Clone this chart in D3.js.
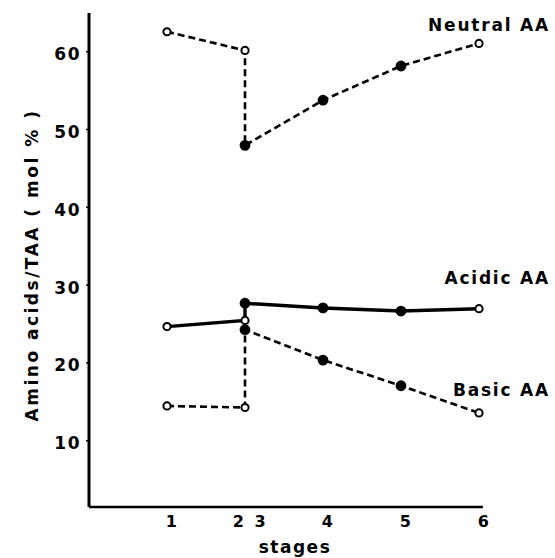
<!DOCTYPE html>
<html>
<head>
<meta charset="utf-8">
<script src="https://cdn.jsdelivr.net/npm/d3@7"></script>
<style>
  body { margin: 0; background: #fff; }
  text { font-family: "DejaVu Sans", "Liberation Sans", sans-serif; font-weight: bold; fill: #000; }
</style>
</head>
<body>
<svg id="chart" width="555" height="558"></svg>
<script>
// stage positions of each measured point (stage 2 ends where stage 3 starts)
var stagePos = [1, 2, 2, 3, 4, 5];
var openPoint = [true, true, false, false, false, true];
var stageTicks = [1, 2, 3, 4, 5];
var stageLabels = ["1", "2 3", "4", "5", "6"];
var yTicks = [10, 20, 30, 40, 50, 60];

var neutralAA = [62.5, 60.1, 47.9, 53.7, 58.1, 61.0];
var acidicAA = [24.6, 25.4, 27.6, 27.0, 26.6, 26.9];
var basicAA = [14.4, 14.2, 24.2, 20.3, 17.0, 13.5];

var seriesNames = ["Neutral AA", "Acidic AA", "Basic AA"];
var seriesLabelAt = [62.6, 30.1, 15.7];

var svg = d3.select("#chart");

var x = d3.scaleLinear().domain([0, 5]).range([89, 479]);
var y = d3.scaleLinear().domain([0, 60]).range([518, 51.2]);

var series = [
  {name: seriesNames[0], values: neutralAA, dashed: true, labelAt: seriesLabelAt[0]},
  {name: seriesNames[1], values: acidicAA, dashed: false, labelAt: seriesLabelAt[1]},
  {name: seriesNames[2], values: basicAA, dashed: true, labelAt: seriesLabelAt[2]}
];

// axes
var yAxis = d3.axisLeft(y).tickValues(yTicks).tickSize(3).tickPadding(5);
var yg = svg.append("g").attr("transform", "translate(" + x(0) + ",0)").call(yAxis);
yg.select(".domain").remove();
yg.selectAll("line").attr("stroke", "#000").attr("stroke-width", 1.5);
yg.selectAll("text").style("font-size", "17px").style("letter-spacing", "1.5px")
  .attr("dy", "0.5em").attr("font-family", null);

var xAxis = d3.axisBottom(x).tickValues(stageTicks).tickSize(0).tickPadding(9)
  .tickFormat(function(d, i) { return stageLabels[i]; });
var xg = svg.append("g").attr("transform", "translate(0," + y(1.4) + ")").call(xAxis);
xg.select(".domain").remove();
xg.selectAll("text").style("font-size", "16px").style("letter-spacing", "2.5px")
  .attr("dx", 5).attr("font-family", null).style("white-space", "pre");

// axis lines
svg.append("line")
  .attr("x1", x(0)).attr("x2", x(0))
  .attr("y1", y(64.9)).attr("y2", y(1.4))
  .attr("stroke", "#000").attr("stroke-width", 3);
svg.append("line")
  .attr("x1", x(0)).attr("x2", x(5.05))
  .attr("y1", y(1.4)).attr("y2", y(1.4))
  .attr("stroke", "#000").attr("stroke-width", 2.5);

var line = d3.line()
  .x(function(d, i) { return x(stagePos[i]); })
  .y(function(d) { return y(d); });

series.forEach(function(s) {
  svg.append("path")
    .attr("d", line(s.values))
    .attr("fill", "none")
    .attr("stroke", "#000")
    .attr("stroke-width", s.dashed ? 2.6 : 3.4)
    .attr("stroke-dasharray", s.dashed ? "7,4" : null);

  svg.selectAll(null).data(s.values).enter().append("circle")
    .attr("cx", function(d, i) { return x(stagePos[i]); })
    .attr("cy", function(d) { return y(d); })
    .attr("r", function(d, i) { return openPoint[i] ? 3.6 : 4.4; })
    .attr("fill", function(d, i) { return openPoint[i] ? "#fff" : "#000"; })
    .attr("stroke", "#000")
    .attr("stroke-width", 2);

  svg.append("text")
    .attr("x", 550).attr("y", y(s.labelAt))
    .attr("text-anchor", "end")
    .style("font-size", "17px").style("letter-spacing", "1.8px")
    .text(s.name);
});

// axis titles
svg.append("text")
  .attr("x", 295).attr("y", 553)
  .attr("text-anchor", "middle")
  .style("font-size", "17px").style("letter-spacing", "1.5px")
  .text("stages");

svg.append("text")
  .attr("transform", "translate(38,265) rotate(-90)")
  .attr("text-anchor", "middle")
  .style("font-size", "17px").style("letter-spacing", "2.5px")
  .text("Amino acids/TAA ( mol % )");
</script>
</body>
</html>
